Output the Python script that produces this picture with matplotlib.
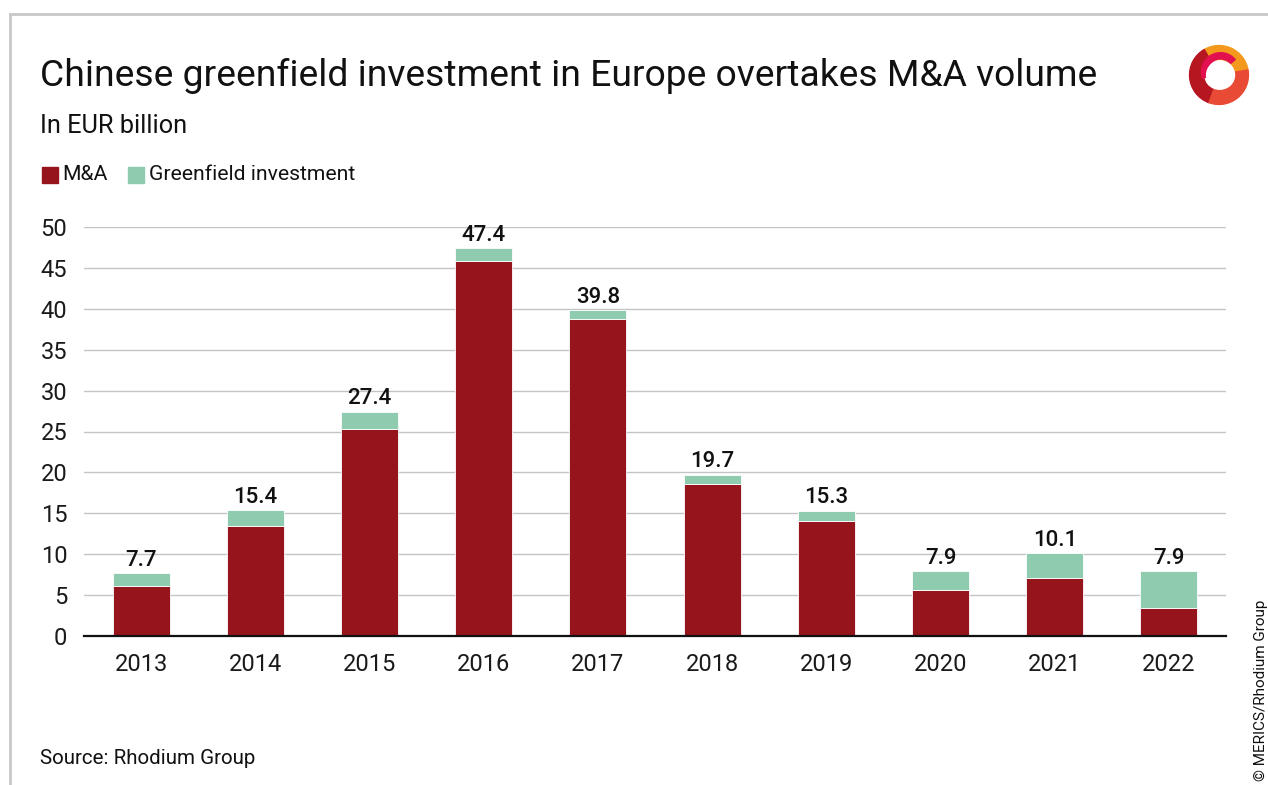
import matplotlib
matplotlib.use('Agg')
import matplotlib.pyplot as plt
from matplotlib.patches import Rectangle, Wedge, Circle
from matplotlib.lines import Line2D

plt.rcParams['font.family'] = ['Roboto', 'DejaVu Sans']

# data (EUR billion)
years = ['2013', '2014', '2015', '2016', '2017', '2018', '2019', '2020', '2021', '2022']
ma = [6.1, 13.4, 25.3, 45.8, 38.75, 18.6, 14.1, 5.6, 7.1, 3.4]
greenfield = [1.6, 2.0, 2.1, 1.6, 1.05, 1.1, 1.2, 2.3, 3.0, 4.5]
totals = [7.7, 15.4, 27.4, 47.4, 39.8, 19.7, 15.3, 7.9, 10.1, 7.9]
yticks = [0, 5, 10, 15, 20, 25, 30, 35, 40, 45, 50]

RED = '#96151c'
GREEN = '#8ecbaf'

fig = plt.figure(figsize=(12.68, 7.85), dpi=100)
ax = fig.add_axes([84/1268, 1-636/785, (1226-84)/1268, (636-227)/785])

x = list(range(len(years)))
ax.bar(x, ma, width=0.5, color=RED, edgecolor='white', linewidth=0.6, zorder=3)
ax.bar(x, greenfield, bottom=ma, width=0.5, color=GREEN, edgecolor='white', linewidth=0.6, zorder=3)

for xi, t in zip(x, totals):
    ax.text(xi, t + 0.3, f'{t:.1f}', ha='center', va='bottom', fontsize=16,
            fontweight='medium', color='#111111', zorder=4, clip_on=False)

ax.set_xlim(-0.5, len(years) - 0.5)
ax.set_ylim(0, 50)
ax.set_yticks(yticks)
ax.set_xticks(x)
ax.set_xticklabels(years)
ax.tick_params(axis='both', length=0, labelsize=17, colors='#1a1a1a')
ax.tick_params(axis='y', pad=12)
ax.tick_params(axis='x', pad=12)
ax.grid(axis='y', color='#c4c4c4', linewidth=1, zorder=0)
for s in ['top', 'right', 'left']:
    ax.spines[s].set_visible(False)
ax.spines['bottom'].set_color('#111111')
ax.spines['bottom'].set_linewidth(1.6)
ax.spines['bottom'].set_zorder(5)

# titles
fig.text(40/1268, 1-76/785, 'Chinese greenfield investment in Europe overtakes M&A volume',
         fontsize=26.8, va='center', ha='left', color='#111111')
fig.text(40/1268, 1-126/785, 'In EUR billion', fontsize=18.3, va='center', ha='left', color='#111111')

# legend
fig.patches.append(Rectangle((42/1268, 1-183/785), 16/1268, 16/785, transform=fig.transFigure,
                             color=RED, figure=fig))
fig.text(62/1268, 1-175/785, 'M&A', fontsize=15.2, va='center', ha='left', color='#111111')
fig.patches.append(Rectangle((128/1268, 1-183/785), 16/1268, 16/785, transform=fig.transFigure,
                             color=GREEN, figure=fig))
fig.text(149/1268, 1-175/785, 'Greenfield investment', fontsize=15.2, va='center', ha='left', color='#111111')

# source and credit
fig.text(40/1268, 1-759/785, 'Source: Rhodium Group', fontsize=14.8, va='center', ha='left', color='#111111')
fig.text(1261/1268, 1-690/785, '© MERICS/Rhodium Group', fontsize=11, rotation=90,
         va='center', ha='center', color='#111111')

# frame lines
fig.add_artist(Line2D([10/1268, 1], [1-14/785, 1-14/785], transform=fig.transFigure,
                      color='#c8c8c8', linewidth=2))
fig.add_artist(Line2D([10/1268, 10/1268], [0, 1-14/785], transform=fig.transFigure,
                      color='#c8c8c8', linewidth=2))

# logo (rough ring)
lax = fig.add_axes([1188/1268, 1-106/785, 62/1268, 62/785])
lax.set_xlim(-1, 1)
lax.set_ylim(-1, 1)
lax.set_aspect('equal')
lax.axis('off')
lax.add_patch(Wedge((0, 0), 0.95, 10, 120, width=0.45, color='#f39a1e'))
lax.add_patch(Wedge((0, 0), 0.95, 120, 250, width=0.45, color='#b5161f'))
lax.add_patch(Wedge((0, 0), 0.95, 250, 370, width=0.45, color='#e84a35'))
lax.add_patch(Wedge((0.05, 0.1), 0.62, 40, 200, width=0.2, color='#e2104f'))
lax.add_patch(Circle((0.05, 0.0), 0.45, color='white'))

fig.savefig('out.png', dpi=100)
